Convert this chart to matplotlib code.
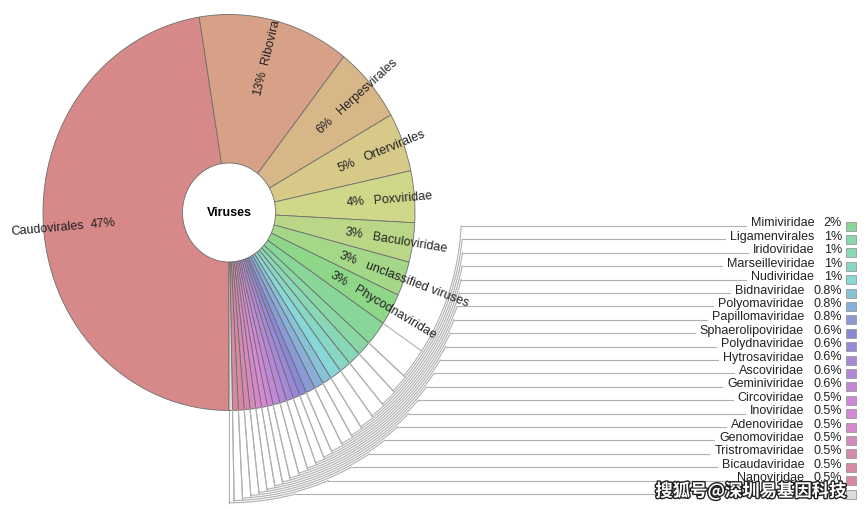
import colorsys

import matplotlib
matplotlib.use("Agg")
import matplotlib.pyplot as plt
import matplotlib.patheffects as pe
from matplotlib.patches import Rectangle
import numpy as np

plt.rcParams['font.family'] = ['Liberation Sans', 'DejaVu Sans']

# wedges labelled on the chart itself
big_names = ["Caudovirales", "Ribovira", "Herpesvirales", "Ortervirales",
             "Poxviridae", "Baculoviridae", "unclassified viruses", "Phycodnaviridae"]
big_pct = ["47%", "13%", "6%", "5%", "4%", "3%", "3%", "3%"]
big_values = [47.3, 13.1, 6.2, 4.8, 4.2, 3.2, 2.8, 2.6]
big_hues = [0, 19, 35, 50, 66, 82, 98, 116]

# small wedges, listed in the key on the right
key_names = ["Mimiviridae", "Ligamenvirales", "Iridoviridae", "Marseilleviridae",
             "Nudiviridae", "Bidnaviridae", "Polyomaviridae", "Papillomaviridae",
             "Sphaerolipoviridae", "Polydnaviridae", "Hytrosaviridae", "Ascoviridae",
             "Geminiviridae", "Circoviridae", "Inoviridae", "Adenoviridae",
             "Genomoviridae", "Tristromaviridae", "Bicaudaviridae", "Nanoviridae", ""]
key_pct = ["2%", "1%", "1%", "1%", "1%", "0.8%", "0.8%", "0.8%", "0.6%", "0.6%",
           "0.6%", "0.6%", "0.6%", "0.5%", "0.5%", "0.5%", "0.5%", "0.5%", "0.5%",
           "0.5%", ""]
key_values = [2.0, 1.2, 1.1, 1.0, 1.0, 0.8, 0.8, 0.8, 0.6, 0.6, 0.6, 0.6, 0.6,
              0.5, 0.5, 0.5, 0.5, 0.5, 0.5, 0.5, 0.3]
key_hues = [132, 142, 155, 166, 180, 196, 211, 226, 240, 252, 263, 273, 283,
            293, 301, 310, 320, 330, 337, 345, None]

watermark = "搜狐号@深圳易基因科技"


def hue_color(h):
    if h is None:
        return '#dcdcdc'
    return colorsys.hls_to_rgb(h / 360.0, 0.69, 0.5)


# pixel geometry of the reference (circle is a bit stretched vertically)
cx, cy, rx, ry = 229, 213.5, 186, 198
W, H = 866, 510


def to_data(px, py):
    return (px - cx) / rx, (cy - py) / ry


def wrap(t):
    return (t + np.pi) % (2 * np.pi) - np.pi


fig = plt.figure(figsize=(W / 100, H / 100), dpi=100)
ax = fig.add_axes([0, 0, 1, 1])

values = big_values + key_values
colors = [hue_color(h) for h in big_hues + key_hues]
wedges, _ = ax.pie(values, colors=colors, startangle=-90, counterclock=False,
                   radius=1, wedgeprops=dict(width=0.75, edgecolor='#6e6e6e',
                                             linewidth=0.6))
ax.set_aspect('auto')
x0, y0 = to_data(0, H)
x1, y1 = to_data(W, 0)
ax.set_xlim(x0, x1)
ax.set_ylim(y0, y1)
ax.axis('off')

ax.text(0, 0, "Viruses", ha='center', va='center', fontsize=9, fontweight='bold')

# labels on the big wedges
for w, name, pct in zip(wedges[:len(big_names)], big_names, big_pct):
    mid = np.deg2rad((w.theta1 + w.theta2) / 2)
    ux, uy = np.cos(mid), np.sin(mid)
    rot = np.degrees(np.arctan2(ry * uy, rx * ux))
    ha = 'left'
    if ux < 0:
        rot += 180
        ha = 'right'
    ax.text(0.68 * ux, 0.68 * uy, pct, rotation=rot, rotation_mode='anchor',
            ha='center', va='center', fontsize=9, color='#222222')
    ax.text(0.78 * ux, 0.78 * uy, name, rotation=rot, rotation_mode='anchor',
            ha=ha, va='center', fontsize=9, color='#222222')

# key on the right
line_c = '#b0b0b0'
row0, row_step = 227, 13.4
fig.canvas.draw()
renderer = fig.canvas.get_renderer()
inv = ax.transData.inverted()

for i, (w, name, pct, col) in enumerate(zip(wedges[len(big_names):], key_names,
                                            key_pct, colors[len(big_names):])):
    ly_px = row0 + i * row_step
    _, ly = to_data(0, ly_px)
    R = 1.25 + i * 0.0108
    t1, t2 = wrap(np.deg2rad(w.theta1)), wrap(np.deg2rad(w.theta2))
    if t2 < t1:
        t2 += 2 * np.pi
    for t in (t1, t2):
        ax.plot([np.cos(t), R * np.cos(t)], [np.sin(t), R * np.sin(t)],
                color=line_c, lw=0.8, zorder=1)
    b = np.arcsin(ly / R)
    arc = np.linspace(t1, b, 80)
    ax.plot(R * np.cos(arc), R * np.sin(arc), color=line_c, lw=0.8, zorder=1)

    # percent right-aligned, name right-aligned just left of it
    px_, py_ = to_data(842, ly_px - 3.5)
    name_right = 813
    if pct:
        tp = ax.text(px_, py_, pct, ha='right', va='center', fontsize=9,
                     color='#222222')
        name_right = tp.get_window_extent(renderer).x0 - 9.5
    if name:
        nx = inv.transform((name_right, 0))[0]
        tn = ax.text(nx, py_, name, ha='right', va='center', fontsize=9,
                     color='#222222')
        left_px = tn.get_window_extent(renderer).x0 - 5
    else:
        left_px = 655
    x_end = inv.transform((left_px, 0))[0]
    ax.plot([R * np.cos(b), x_end], [ly, ly], color=line_c, lw=0.8, zorder=1)

    sx, sy = to_data(846, ly_px + 4.5)
    ax.add_patch(Rectangle((sx, sy), 10 / rx, 9 / ry, facecolor=col,
                           edgecolor='#999999', lw=0.6))

wx, wy = to_data(751, 492)
ax.text(wx, wy, watermark, ha='center', va='center', fontsize=12.5,
        family=['Noto Sans CJK SC', 'DejaVu Sans'], fontweight='bold',
        color='white', zorder=10,
        path_effects=[pe.withStroke(linewidth=2, foreground='#222222')])

fig.savefig("out.png", dpi=100)
